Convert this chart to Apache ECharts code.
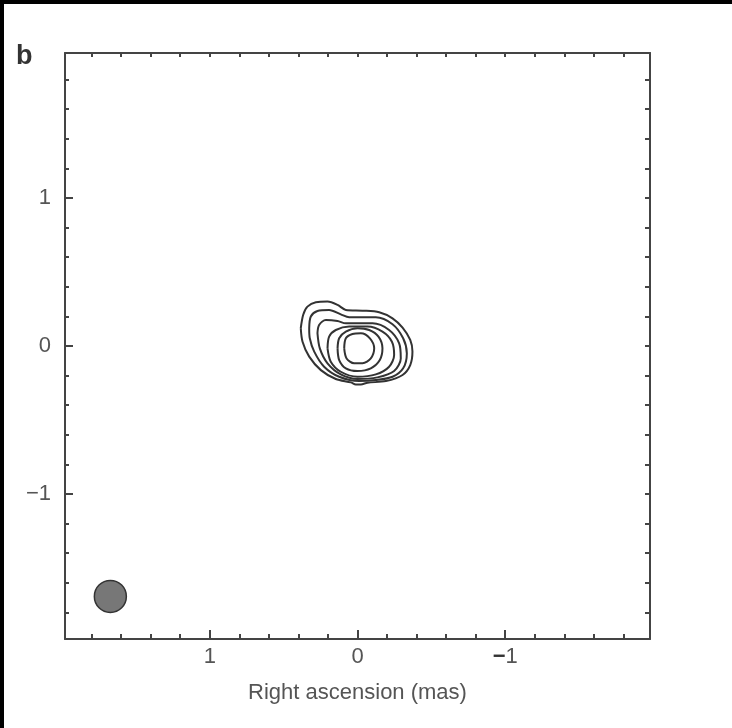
<!DOCTYPE html>
<html>
<head>
<meta charset="utf-8">
<title>Right ascension contour map</title>
<script src="https://cdn.jsdelivr.net/npm/echarts@6/dist/echarts.min.js"></script>
<style>
  html, body { margin: 0; padding: 0; background: #000; }
  #chart { position: absolute; left: 4px; top: 4px; width: 728px; height: 724px; background: #fff; }
</style>
</head>
<body>
<div id="chart"></div>
<script>
// Axis extent (mas) and tick positions
const axisMin = -1.98;
const axisMax = 1.98;
const majorTicks = [-1, 0, 1];
const minorTicks = [-1.8, -1.6, -1.4, -1.2, -0.8, -0.6, -0.4, -0.2, 0.2, 0.4, 0.6, 0.8, 1.2, 1.4, 1.6, 1.8];
const allTicks = [-1.8, -1.6, -1.4, -1.2, -1, -0.8, -0.6, -0.4, -0.2, 0, 0.2, 0.4, 0.6, 0.8, 1, 1.2, 1.4, 1.6, 1.8];

// Contour levels, outermost first: [right ascension offset, declination offset] in mas
const contour1 = [[0.384, 0.120], [0.368, 0.210], [0.339, 0.266], [0.282, 0.296], [0.203, 0.300], [0.135, 0.278],
  [0.079, 0.244], [-0.034, 0.239], [-0.147, 0.228], [-0.237, 0.187], [-0.305, 0.124], [-0.357, 0.041],
  [-0.372, -0.038], [-0.357, -0.129], [-0.305, -0.196], [-0.192, -0.237], [-0.068, -0.248], [-0.023, -0.260],
  [0.011, -0.260], [0.045, -0.246], [0.147, -0.223], [0.248, -0.163], [0.327, -0.072], [0.372, 0.029], [0.384, 0.120]];
const contour2 = [[0.327, 0.120], [0.316, 0.199], [0.271, 0.237], [0.192, 0.244], [0.113, 0.214], [0.056, 0.194],
  [-0.124, 0.194], [-0.237, 0.147], [-0.309, 0.052], [-0.334, -0.050], [-0.309, -0.151], [-0.237, -0.208],
  [-0.124, -0.230], [-0.011, -0.237], [0.124, -0.208], [0.226, -0.140], [0.293, -0.038], [0.323, 0.052], [0.327, 0.120]];
const contour3 = [[0.271, 0.086], [0.260, 0.142], [0.214, 0.176], [0.135, 0.169], [0.079, 0.153], [-0.102, 0.153],
  [-0.214, 0.108], [-0.282, 0.018], [-0.293, -0.084], [-0.248, -0.169], [-0.135, -0.212], [0.000, -0.223],
  [0.113, -0.192], [0.203, -0.117], [0.255, -0.016], [0.271, 0.086]];
const contour4 = [[0.203, -0.016], [0.192, 0.063], [0.147, 0.108], [0.056, 0.131], [-0.068, 0.131], [-0.169, 0.097],
  [-0.233, 0.029], [-0.248, -0.061], [-0.214, -0.140], [-0.124, -0.192], [0.000, -0.208], [0.113, -0.174],
  [0.181, -0.106], [0.203, -0.016]];
const contour5 = [[0.135, -0.016], [0.124, 0.052], [0.079, 0.097], [0.000, 0.120], [-0.079, 0.108], [-0.142, 0.063],
  [-0.169, -0.016], [-0.151, -0.095], [-0.090, -0.151], [0.000, -0.169], [0.079, -0.151], [0.124, -0.095], [0.135, -0.016]];
const contour6 = [[0.090, -0.016], [0.079, 0.052], [0.034, 0.081], [-0.023, 0.086], [-0.084, 0.052], [-0.113, -0.016],
  [-0.090, -0.084], [-0.034, -0.117], [0.023, -0.117], [0.074, -0.084], [0.090, -0.016]];
const contours = [contour1, contour2, contour3, contour4, contour5, contour6];

// Restoring beam position (mas)
const beam = [[1.673, -1.692]];

const FONT = '"Liberation Sans", Arial, sans-serif';
const AXIS_COLOR = '#444';
const LABEL_COLOR = '#555';

function frameAxis(extra) {
  return Object.assign({
    type: 'value', min: axisMin, max: axisMax,
    axisLine: { show: true, onZero: false, lineStyle: { color: AXIS_COLOR, width: 2 } },
    axisTick: { show: false },
    axisLabel: { show: false },
    splitLine: { show: false }
  }, extra);
}
function tickAxis(values, len, extra) {
  return Object.assign({
    type: 'value', min: axisMin, max: axisMax,
    axisLine: { show: false, onZero: false },
    axisTick: { show: true, inside: true, length: len, customValues: values, lineStyle: { color: AXIS_COLOR, width: 2 } },
    axisLabel: { show: false },
    splitLine: { show: false }
  }, extra);
}

const chart = echarts.init(document.getElementById('chart'), null, { renderer: 'canvas' });

const xAxes = [
  frameAxis({
    position: 'bottom', inverse: true,
    axisTick: { show: true, inside: true, length: 9, customValues: majorTicks, lineStyle: { color: AXIS_COLOR, width: 2 } },
    axisLabel: {
      show: true, customValues: majorTicks, margin: 7,
      fontFamily: FONT, fontSize: 22, color: LABEL_COLOR,
      formatter: v => (v < 0 ? '{m|\u2212}' + Math.abs(v) : String(v)),
      rich: { m: { fontFamily: FONT, fontSize: 22, fontWeight: 'bold', color: '#333' } }
    },
    name: 'Right ascension (mas)', nameLocation: 'middle', nameGap: 43,
    nameTextStyle: { fontFamily: FONT, fontSize: 22, color: LABEL_COLOR }
  }),
  tickAxis(minorTicks, 5, { position: 'bottom', inverse: true }),
  frameAxis({ position: 'top', inverse: true }),
  tickAxis(allTicks, 4, { position: 'top', inverse: true })
];
const yAxes = [
  frameAxis({
    position: 'left',
    axisTick: { show: true, inside: true, length: 8, customValues: majorTicks, lineStyle: { color: AXIS_COLOR, width: 2 } },
    axisLabel: {
      show: true, customValues: majorTicks, margin: 14,
      fontFamily: FONT, fontSize: 22, color: LABEL_COLOR,
      formatter: v => (v < 0 ? '\u2212' + Math.abs(v) : String(v))
    }
  }),
  tickAxis(minorTicks, 4, { position: 'left' }),
  frameAxis({ position: 'right' }),
  tickAxis(allTicks, 5, { position: 'right' })
];

const contourSeries = contours.map(c => ({
  type: 'line', xAxisIndex: 0, yAxisIndex: 0,
  data: c, showSymbol: false, symbol: 'none', smooth: 0.3,
  lineStyle: { color: '#333', width: 2 }, silent: true, z: 3
}));

chart.setOption({
  animation: false,
  backgroundColor: '#fff',
  grid: { left: 61, top: 49, width: 585, height: 586, containLabel: false },
  xAxis: xAxes,
  yAxis: yAxes,
  graphic: [{
    type: 'text', left: 12, top: 39,
    style: { text: 'b', fontFamily: FONT, fontSize: 27, fontWeight: 'bold', fill: '#333' }
  }],
  series: contourSeries.concat([{
    type: 'scatter', xAxisIndex: 0, yAxisIndex: 0,
    data: beam, symbol: 'circle', symbolSize: 32,
    itemStyle: { color: '#777', borderColor: '#333', borderWidth: 1.5, opacity: 1 }, z: 4
  }])
});
</script>
</body>
</html>
